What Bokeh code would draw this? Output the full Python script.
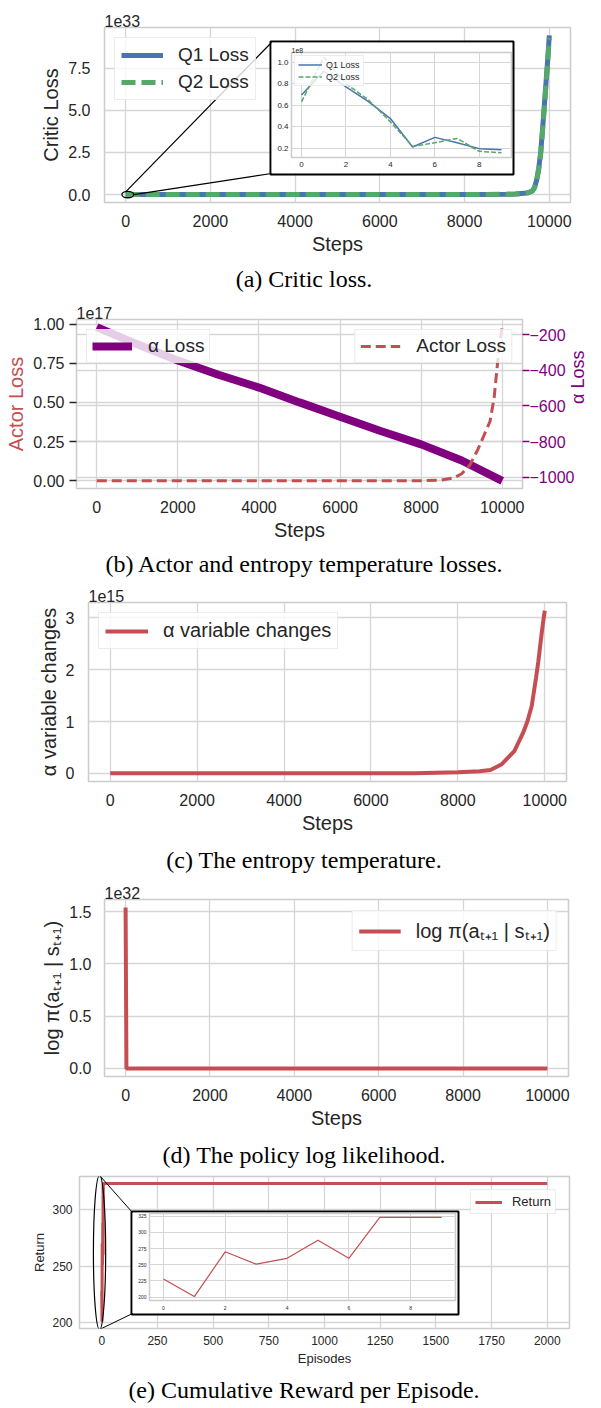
import math
from bokeh.plotting import figure
from bokeh.models import (Range1d, LinearAxis, SingleIntervalTicker, CustomJSTickFormatter,
                          Legend, LegendItem, Div, Grid)
from bokeh.layouts import column
from bokeh.embed import file_html
from bokeh.resources import INLINE

# ---------------- data ----------------
inset_steps = [0, 1, 2, 3, 4, 5, 6, 7, 8, 9]
q1_inset_e8 = [0.695, 0.915, 0.77, 0.635, 0.475, 0.21, 0.30, 0.25, 0.195, 0.185]
q2_inset_e8 = [0.63, 1.045, 0.80, 0.65, 0.445, 0.215, 0.25, 0.29, 0.17, 0.157]
critic_tail_steps = [1000, 2000, 3000, 4000, 5000, 6000, 7000, 8000, 8500, 9000, 9200, 9400,
                     9500, 9600, 9650, 9700, 9750, 9800, 9850, 9900, 9950, 10000]
q1_tail_e33 = [0, 0, 0, 0, 0, 0, 0, 0.001, 0.004, 0.015, 0.03, 0.07,
               0.11, 0.22, 0.42, 0.85, 1.55, 2.6, 4.2, 5.9, 7.6, 9.45]
q2_tail_e33 = [0, 0, 0, 0, 0, 0, 0, 0.001, 0.004, 0.014, 0.03, 0.068,
               0.105, 0.21, 0.40, 0.8, 1.5, 2.5, 4.1, 5.8, 7.5, 9.3]

actor_steps = [0, 1000, 2000, 3000, 4000, 5000, 6000, 7000, 8000, 8500, 8800, 9000, 9200,
               9400, 9600, 9700, 9800, 9900, 9950, 10000]
actor_loss_e17 = [0, 0, 0, 0, 0, 0, 0, 0, 0.001, 0.005, 0.018, 0.045, 0.10,
                  0.20, 0.32, 0.38, 0.53, 0.79, 0.90, 0.98]
alpha_loss_steps = [0, 1000, 2000, 3000, 4000, 5000, 6000, 7000, 8000, 9000, 10000]
alpha_loss = [-159, -255, -346, -425, -497, -580, -660, -740, -815, -905, -1019]

alpha_var_steps = [0, 1000, 2000, 3000, 4000, 5000, 6000, 7000, 8000, 8500, 8750, 9000, 9300,
                   9500, 9600, 9700, 9800, 9850, 9900, 9950, 10000]
alpha_var_e15 = [0, 0, 0, 0, 0, 0, 0, 0, 0.02, 0.04, 0.065, 0.17, 0.43,
                 0.78, 1.0, 1.3, 1.85, 2.15, 2.5, 2.85, 3.14]

logpi_steps = [0, 20, 10000]
logpi_e32 = [1.54, 0.0, 0.0]

episodes = [0, 1, 2, 3, 4, 5, 6, 7, 8, 9, 2000]
returns = [228, 201, 270, 251, 260, 288, 260, 323, 323, 323, 323]

captions = ["(a) Critic loss.",
            "(b) Actor and entropy temperature losses.",
            "(c) The entropy temperature.",
            "(d) The policy log likelihood.",
            "(e) Cumulative Reward per Episode."]

# ---------------- style ----------------
SANS = "Liberation Sans"
SERIF = "Liberation Serif"
TXT = "#262626"
GRIDC = "#d6d6d6"
SPINE = "#cccccc"
BLUE = "#4c72b0"
GREEN = "#55a868"
RED = "#c44e52"
PURPLE = "#800080"
LOGPI = "log \u03c0(a\u209c\u208a\u2081 | s\u209c\u208a\u2081)"


def padded(vals, frac=0.05):
    lo, hi = min(vals), max(vals)
    d = (hi - lo) * frac
    return lo - d, hi + d


def make_fig(w, h, xr, yr, l, r, t, b, **kw):
    return figure(width=w, height=h, x_range=Range1d(*xr), y_range=Range1d(*yr),
                  output_backend="svg", toolbar_location=None, frame_align=False,
                  min_border_left=l, min_border_right=r, min_border_top=t, min_border_bottom=b, **kw)


def base_style(p, tick_px, label_px, xstand=12, ystand=14, xlab=3, ylab=3, gw=1.3):
    p.background_fill_color = "white"
    p.border_fill_color = "white"
    p.outline_line_color = SPINE
    p.outline_line_width = 1.5
    for ax in list(p.xaxis) + list(p.yaxis):
        ax.axis_line_color = None
        ax.major_tick_line_color = None
        ax.minor_tick_line_color = None
        ax.major_tick_out = 0
        ax.major_tick_in = 0
        ax.minor_tick_out = 0
        ax.minor_tick_in = 0
        ax.major_label_text_font = SANS
        ax.major_label_text_font_size = tick_px
        ax.major_label_text_color = TXT
        ax.axis_label_text_font = SANS
        ax.axis_label_text_font_size = label_px
        ax.axis_label_text_font_style = "normal"
        ax.axis_label_text_color = TXT
    for ax in p.xaxis:
        ax.major_label_standoff = xstand
        ax.axis_label_standoff = xlab
    for ax in p.yaxis:
        ax.major_label_standoff = ystand
        ax.axis_label_standoff = ylab
    for g in list(p.xgrid) + list(p.ygrid):
        g.grid_line_color = GRIDC
        g.grid_line_width = gw


def set_ticks(p, xint, yint):
    xt = SingleIntervalTicker(interval=xint, num_minor_ticks=0)
    yt = SingleIntervalTicker(interval=yint, num_minor_ticks=0)
    p.xaxis.ticker = xt
    p.xgrid.ticker = xt
    p.yaxis.ticker = yt
    p.ygrid.ticker = yt


def sci_fmt(scale, digits):
    return CustomJSTickFormatter(code="return (tick/%s).toFixed(%d);" % (scale, digits))


def offset_title(p, text, size, standoff=1):
    p.title.text = text
    p.title.align = "left"
    p.title.offset = 0
    p.title.standoff = standoff
    p.title.text_font = SANS
    p.title.text_font_size = size
    p.title.text_font_style = "normal"
    p.title.text_color = TXT


def style_legend(lg, font_px, glyph_w, glyph_h, label_h, pad, margin, standoff, spacing=4):
    lg.label_text_font = SANS
    lg.label_text_font_size = font_px
    lg.label_text_color = TXT
    lg.background_fill_color = "white"
    lg.background_fill_alpha = 0.8
    lg.border_line_color = "#d9d9d9"
    lg.border_line_width = 1
    lg.glyph_width = glyph_w
    lg.glyph_height = glyph_h
    lg.label_height = label_h
    lg.padding = pad
    lg.margin = margin
    lg.label_standoff = standoff
    lg.spacing = spacing


def caption(text, h):
    return Div(text=text, width=601, height=h, margin=0,
               styles={"font-family": SERIF, "font-size": "24px", "text-align": "center",
                       "line-height": "%dpx" % h, "color": "black", "padding-left": "7px",
                       "box-sizing": "border-box"})


def px_to_data(p, frame_left, frame_top, fw, fh, px, py):
    x0, x1 = p.x_range.start, p.x_range.end
    y0, y1 = p.y_range.start, p.y_range.end
    return (x0 + (px - frame_left) / fw * (x1 - x0), y1 - (py - frame_top) / fh * (y1 - y0))


# ================= (a) critic loss =================
critic_steps = inset_steps + critic_tail_steps
q1_loss = [v * 1e8 for v in q1_inset_e8] + [v * 1e33 for v in q1_tail_e33]
q2_loss = [v * 1e8 for v in q2_inset_e8] + [v * 1e33 for v in q2_tail_e33]

# canvas page y 0..262, frame x 104..570, y 27..202
pa = make_fig(592, 262, padded(critic_steps), padded(q1_loss + q2_loss), 104, 22, 27, 60)
pa.xaxis.axis_label = "Steps"
pa.yaxis.axis_label = "Critic Loss"
set_ticks(pa, 2000, 2.5e33)
pa.yaxis.formatter = sci_fmt("1e33", 1)
base_style(pa, "16px", "20px")
offset_title(pa, "1e33", "16px")
pa.line(critic_steps, q1_loss, color=BLUE, line_width=5, legend_label="Q1 Loss")
pa.line(critic_steps, q2_loss, color=GREEN, line_width=5, line_dash="14 6", legend_label="Q2 Loss")
style_legend(pa.legend[0], "19px", 42, 20, 20, 6, 10, 15, spacing=5)
pa.legend.location = "top_left"
# zoom marker, connectors and inset frame box
ex, ey, ew, eh = 50, 0.0, 280, 0.38e33
pa.ellipse(x=[ex], y=[ey], width=ew, height=eh, fill_color=None, line_color="black", line_width=1.3)
FA = (104, 27, 466, 175)
c1 = px_to_data(pa, *FA, 271, 42)
c2 = px_to_data(pa, *FA, 271, 173)
pa.segment(x0=[ex - 0.18 * ew, ex + 0.5 * ew], y0=[ey + 0.42 * eh, ey],
           x1=[c1[0], c2[0]], y1=[c1[1], c2[1]], line_color="black", line_width=1.2)
bl, bt = px_to_data(pa, *FA, 270, 41)
br, bb = px_to_data(pa, *FA, 513, 174)
pa.quad(left=[bl], right=[br], top=[bt], bottom=[bb], fill_color=None, line_color="black", line_width=2)

# inset (a): page box x 271..512, y 42..173
q1_in = [v * 1e8 for v in q1_inset_e8]
q2_in = [v * 1e8 for v in q2_inset_e8]
ia = make_fig(241, 131, padded(inset_steps), padded(q1_in + q2_in), 20, 1, 10, 16,
              margin=(-220, 0, 89, 271))
set_ticks(ia, 2, 0.2e8)
ia.yaxis.formatter = sci_fmt("1e8", 1)
base_style(ia, "8px", "8px", xstand=4, ystand=3, gw=1)
offset_title(ia, "1e8", "7px", standoff=0)
ia.line(inset_steps, q1_in, color=BLUE, line_width=1.5, legend_label="Q1 Loss")
ia.line(inset_steps, q2_in, color=GREEN, line_width=1.5, line_dash="5 2", legend_label="Q2 Loss")
style_legend(ia.legend[0], "9px", 24, 11, 11, 3, 3, 4, spacing=1)
ia.legend.location = "top_left"

# ================= (b) actor & alpha losses =================
# canvas page y 296..545, frame x 76..523, y 319..488
actor_loss = [v * 1e17 for v in actor_loss_e17]
pb = make_fig(601, 249, padded(actor_steps), padded(actor_loss), 76, 78, 23, 57)
pb.extra_y_ranges = {"alpha": Range1d(*padded(alpha_loss))}
pb.xaxis.axis_label = "Steps"
pb.yaxis.axis_label = "Actor Loss"
set_ticks(pb, 2000, 0.25e17)
pb.yaxis.formatter = sci_fmt("1e17", 2)
base_style(pb, "16px", "20px", ystand=5)
offset_title(pb, "1e17", "16px")
pb.yaxis.major_tick_out = 7
pb.yaxis.major_tick_line_color = TXT
pb.yaxis.major_tick_line_width = 1.3
pb.yaxis.axis_label_text_color = RED
rt = SingleIntervalTicker(interval=200, num_minor_ticks=0)
ax_r = LinearAxis(y_range_name="alpha", ticker=rt, axis_label="\u03b1 Loss",
                  formatter=CustomJSTickFormatter(
                      code="return (tick < 0 ? '\\u2212' : '') + Math.abs(tick).toFixed(0);"))
ax_r.axis_line_color = None
ax_r.major_tick_out = 7
ax_r.major_tick_in = 0
ax_r.major_tick_line_color = PURPLE
ax_r.major_tick_line_width = 1.3
ax_r.minor_tick_line_color = None
ax_r.major_label_standoff = 0
ax_r.major_label_text_font = SANS
ax_r.major_label_text_font_size = "16px"
ax_r.major_label_text_color = PURPLE
ax_r.axis_label_text_font = SANS
ax_r.axis_label_text_font_size = "18px"
ax_r.axis_label_text_font_style = "normal"
ax_r.axis_label_text_color = PURPLE
ax_r.axis_label_standoff = 1
ax_r.axis_label_orientation = math.pi / 2
pb.add_layout(ax_r, "right")
pb.add_layout(Grid(dimension=1, ticker=rt, y_range_name="alpha",
                   grid_line_color=GRIDC, grid_line_width=1.3))
r_alpha = pb.line(alpha_loss_steps, alpha_loss, y_range_name="alpha", color=PURPLE, line_width=8)
r_actor = pb.line(actor_steps, actor_loss, color=RED, line_width=3, line_dash="10 5")
leg1 = Legend(items=[LegendItem(label="\u03b1 Loss", renderers=[r_alpha])], location="top_left")
leg2 = Legend(items=[LegendItem(label="Actor Loss", renderers=[r_actor])], location="top_right")
style_legend(leg1, "19px", 40, 20, 20, 5, 10, 16)
style_legend(leg2, "19px", 40, 20, 20, 5, 10, 16)
pb.add_layout(leg1)
pb.add_layout(leg2)

# ================= (c) alpha variable =================
# canvas page y 583..840, frame x 88..566, y 602..781
alpha_var = [v * 1e15 for v in alpha_var_e15]
pc = make_fig(588, 257, padded(alpha_var_steps), padded(alpha_var), 88, 22, 19, 59)
pc.xaxis.axis_label = "Steps"
pc.yaxis.axis_label = "\u03b1 variable changes"
set_ticks(pc, 2000, 1e15)
pc.yaxis.formatter = sci_fmt("1e15", 0)
base_style(pc, "16px", "20px")
offset_title(pc, "1e15", "16px")
pc.line(alpha_var_steps, alpha_var, color=RED, line_width=4, legend_label="\u03b1 variable changes")
style_legend(pc.legend[0], "20px", 43, 22, 22, 6, 10, 15)
pc.legend.location = "top_left"

# ================= (d) log pi =================
# canvas page y 880..1138, frame x 104..568, y 899..1076
logpi = [v * 1e32 for v in logpi_e32]
pd_ = make_fig(590, 258, padded(logpi_steps), padded(logpi), 104, 22, 19, 62)
pd_.xaxis.axis_label = "Steps"
pd_.yaxis.axis_label = LOGPI
set_ticks(pd_, 2000, 0.5e32)
pd_.yaxis.formatter = sci_fmt("1e32", 1)
base_style(pd_, "16px", "20px", ystand=13)
offset_title(pd_, "1e32", "16px")
pd_.line(logpi_steps, logpi, color=RED, line_width=4, legend_label=LOGPI)
style_legend(pd_.legend[0], "20px", 42, 22, 22, 6, 11, 15)
pd_.legend.location = "top_right"

# ================= (e) returns =================
# canvas page y 1172..1372, frame x 79..569, y 1176..1328
pe = make_fig(591, 200, padded(episodes), padded(returns), 79, 22, 4, 44)
pe.xaxis.axis_label = "Episodes"
pe.yaxis.axis_label = "Return"
set_ticks(pe, 250, 50)
base_style(pe, "12px", "13px", xstand=7, ystand=7, xlab=3, ylab=2)
pe.line(episodes, returns, color=RED, line_width=3, legend_label="Return")
style_legend(pe.legend[0], "13px", 27, 14, 14, 4, 13, 10)
pe.legend.location = "top_right"
eex, eey, eew, eeh = -10, 262, 55, 136
pe.ellipse(x=[eex], y=[eey], width=eew, height=eeh, fill_color=None, line_color="black", line_width=1.2)
FE = (79, 1176, 490, 152)
k1 = px_to_data(pe, *FE, 132, 1212)
k2 = px_to_data(pe, *FE, 132, 1313)
pe.segment(x0=[eex, eex], y0=[eey + eeh / 2, eey - eeh / 2], x1=[k1[0], k2[0]], y1=[k1[1], k2[1]],
           line_color="black", line_width=1.0)
el, et = px_to_data(pe, *FE, 131, 1211)
er, eb = px_to_data(pe, *FE, 458, 1314)
pe.quad(left=[el], right=[er], top=[et], bottom=[eb], fill_color=None, line_color="black", line_width=2)

# inset (e): page box x 132..457, y 1212..1313
ret_in = returns[:10]
ie = make_fig(325, 101, padded(inset_steps), padded(ret_in), 17, 2, 1, 13,
              margin=(-160, 0, 59, 132))
set_ticks(ie, 2, 25)
base_style(ie, "5px", "5px", xstand=5, ystand=3, gw=1)
ie.line(inset_steps, ret_in, color=RED, line_width=1.2)

layout = column(pa, ia, caption(captions[0], 34),
                pb, caption(captions[1], 38),
                pc, caption(captions[2], 40),
                pd_, caption(captions[3], 34),
                pe, ie, caption(captions[4], 36), spacing=0)

open("out.html", "w").write(file_html(layout, INLINE))
